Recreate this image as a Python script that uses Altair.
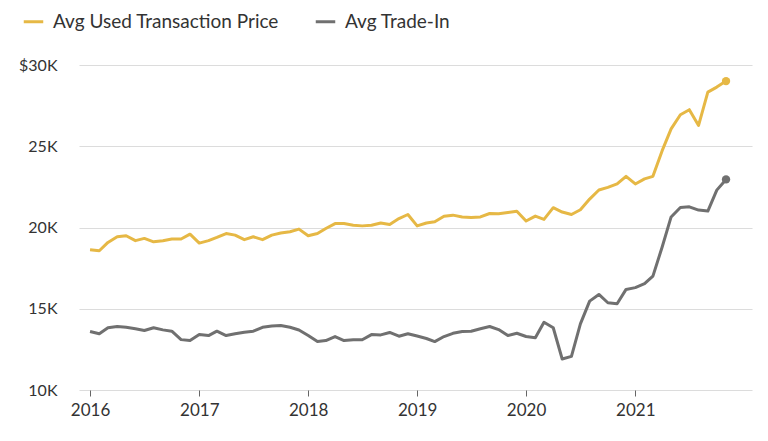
import altair as alt
import pandas as pd

# Monthly values, Jan 2016 - Nov 2021, in thousands of dollars
months = pd.date_range("2016-01-01", "2021-11-01", freq="MS").strftime("%Y-%m-%d").tolist()

used_price = [
    18.63, 18.57, 19.08, 19.43, 19.49, 19.19, 19.33, 19.12, 19.19, 19.29, 19.29, 19.59,
    19.04, 19.19, 19.39, 19.63, 19.53, 19.25, 19.43, 19.25, 19.53, 19.66, 19.74, 19.90,
    19.49, 19.63, 19.94, 20.24, 20.24, 20.14, 20.10, 20.14, 20.28, 20.18, 20.55, 20.80,
    20.10, 20.28, 20.35, 20.69, 20.76, 20.65, 20.61, 20.65, 20.86, 20.85, 20.92, 21.00,
    20.40, 20.70, 20.50, 21.22, 20.95, 20.80, 21.09, 21.75, 22.31, 22.47, 22.68, 23.15,
    22.68, 22.99, 23.15, 24.73, 26.07, 26.94, 27.25, 26.28, 28.33, 28.64, 29.01,
]

trade_in = [
    13.60, 13.46, 13.83, 13.91, 13.86, 13.77, 13.66, 13.83, 13.70, 13.62, 13.10, 13.04,
    13.41, 13.35, 13.62, 13.35, 13.46, 13.56, 13.62, 13.86, 13.94, 13.97, 13.86, 13.69,
    13.35, 12.98, 13.04, 13.29, 13.04, 13.09, 13.09, 13.41, 13.39, 13.54, 13.31, 13.46,
    13.32, 13.17, 12.98, 13.29, 13.49, 13.60, 13.62, 13.77, 13.91, 13.72, 13.35, 13.49,
    13.29, 13.21, 14.17, 13.83, 11.91, 12.07, 14.07, 15.47, 15.88, 15.37, 15.31, 16.19,
    16.30, 16.54, 17.01, 18.80, 20.65, 21.23, 21.27, 21.07, 21.01, 22.30, 22.96,
]

series_names = ["Avg Used Transaction Price", "Avg Trade-In"]
series_colors = ["#E6B845", "#707070"]
year_ticks = [2016, 2017, 2018, 2019, 2020, 2021]
y_ticks = [10, 15, 20, 25, 30]

df = pd.DataFrame({
    "date": months * 2,
    "value": used_price + trade_in,
    "series": [series_names[0]] * len(months) + [series_names[1]] * len(months),
})
last = pd.DataFrame({
    "date": [months[-1], months[-1]],
    "value": [used_price[-1], trade_in[-1]],
    "series": series_names,
})

FONT = "Lato"

x_enc = alt.X(
    "date:T",
    title=None,
    scale=alt.Scale(
        type="utc",
        domain=[alt.DateTime(year=2015, month=11, date=25, utc=True),
                alt.DateTime(year=2022, month=1, date=27, utc=True)],
    ),
    axis=alt.Axis(
        values=[alt.DateTime(year=y, month=1, date=1, utc=True) for y in year_ticks],
        format="%Y",
        grid=False,
        domain=False,
        ticks=True,
        tickSize=6,
        tickColor="#666666",
        tickWidth=1,
        labelPadding=6,
        labelFontSize=17,
        labelColor="#333333",
        labelFont=FONT,
    ),
)
y_enc = alt.Y(
    "value:Q",
    title=None,
    scale=alt.Scale(domain=[10, 30], nice=False, zero=False),
    axis=alt.Axis(
        values=y_ticks,
        labelExpr="datum.value == 30 ? '$30K' : datum.value + 'K'",
        domain=False,
        ticks=False,
        grid=True,
        gridColor="#dcdcdc",
        gridWidth=1.2,
        labelPadding=22,
        labelFontSize=16,
        labelColor="#333333",
        labelFont=FONT,
    ),
)
color_scale = alt.Scale(domain=series_names, range=series_colors)

lines = alt.Chart(df).mark_line(strokeWidth=3, strokeJoin="round").encode(
    x=x_enc,
    y=y_enc,
    color=alt.Color(
        "series:N",
        scale=color_scale,
        legend=alt.Legend(
            title=None,
            orient="none",
            direction="horizontal",
            legendX=-57,
            legendY=-55,
            symbolType="stroke",
            symbolStrokeWidth=3,
            symbolSize=380,
            labelFontSize=19,
            labelFont=FONT,
            labelColor="#333333",
            labelLimit=0,
            columnPadding=30,
            labelOffset=8,
        ),
    ),
)

dots = alt.Chart(last).mark_circle(size=70, opacity=1).encode(
    x="date:T",
    y="value:Q",
    color=alt.Color("series:N", scale=color_scale, legend=None),
)

chart = (
    alt.layer(lines, dots)
    .properties(
        width=673,
        height=325,
        padding={"left": 71, "top": 57, "right": 8, "bottom": 35},
        autosize=alt.AutoSizeParams(type="none"),
    )
    .configure_view(stroke=None)
)

chart.save("out.html", embed_options={"renderer": "svg", "actions": False})
